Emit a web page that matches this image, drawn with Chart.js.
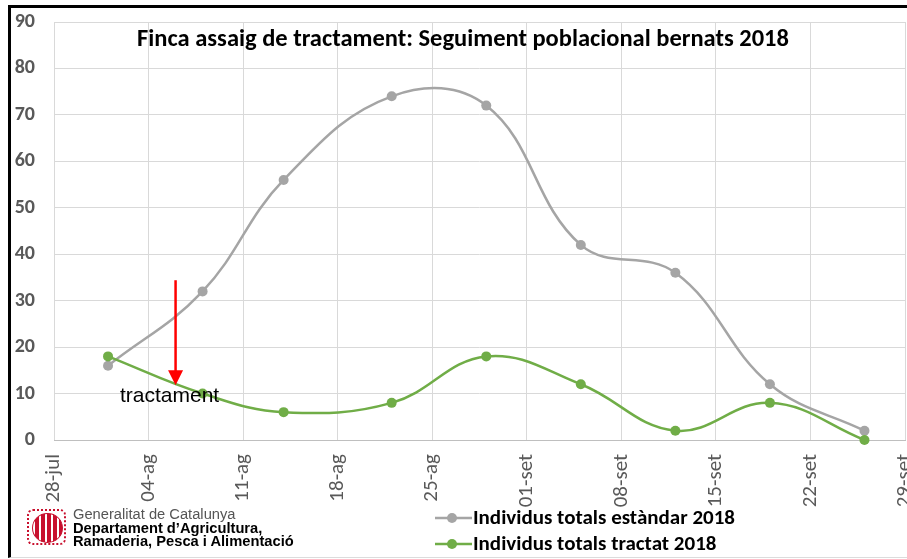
<!DOCTYPE html>
<html>
<head>
<meta charset="utf-8">
<script src="https://cdn.jsdelivr.net/npm/chart.js@4.4.1/dist/chart.umd.min.js"></script>
<style>
  html, body { margin: 0; padding: 0; background: #ffffff; }
  #wrap { position: relative; width: 907px; height: 559px; overflow: hidden; background: #fff; }
  #frame { position: absolute; left: 8px; top: 5px; right: -4px; bottom: 1px;
           border-left: 3px solid #000; border-top: 3px solid #000; border-bottom: 1px solid #dcdcdc; }
  #c { position: absolute; left: 0; top: 0; }
  #logo { position: absolute; left: 27px; top: 509px; width: 320px; height: 40px; }
  #emblem { position: absolute; left: 0; top: 0; width: 39px; height: 36px;
            border: 2px dotted #c8102e; border-radius: 6px; box-sizing: border-box; }
  #emblem .oval { position: absolute; left: 3px; top: 2px; width: 29px; height: 28px; border-radius: 50%;
            border: 1px solid #c8102e;
            background: repeating-linear-gradient(90deg, #ffffff 0px, #ffffff 2.5px, #c8102e 2.5px, #c8102e 6px); }
  #logotext { position: absolute; left: 46px; top: -1px; font-family: "Liberation Sans", Arial, sans-serif;
              font-size: 14.7px; line-height: 13.5px; color: #000; white-space: nowrap; }
  #logotext .l1 { color: #555; font-weight: normal; }
  #logotext .b { font-weight: bold; }
</style>
</head>
<body>
<div id="wrap">
  <div id="frame"></div>
  <canvas id="c" width="910" height="559"></canvas>
  <div id="logo">
    <div id="emblem"><div class="oval"></div></div>
    <div id="logotext">
      <div class="l1">Generalitat de Catalunya</div>
      <div class="b">Departament d’Agricultura,</div>
      <div class="b">Ramaderia, Pesca i Alimentació</div>
    </div>
  </div>
</div>
<script>
// ---------------- data ----------------
const chartTitle = 'Finca assaig de tractament: Seguiment poblacional bernats 2018';
const axisStart = '2018-07-28';
const tickLabels = ['28-jul', '04-ag', '11-ag', '18-ag', '25-ag', '01-set', '08-set', '15-set', '22-set', '29-set'];
const sampleDates = ['2018-08-01', '2018-08-08', '2018-08-14', '2018-08-22', '2018-08-29', '2018-09-05', '2018-09-12', '2018-09-19', '2018-09-26'];
const seriesNames = ['Individus totals estàndar 2018', 'Individus totals tractat 2018'];
const estandar = [16, 32, 56, 74, 72, 42, 36, 12, 2];
const tractat = [18, 10, 6, 8, 18, 12, 2, 8, 0];
const treatmentDate = '2018-08-06';
const treatmentLabel = 'tractament';
const arrowFrom = 34.4;
const arrowTo = 11.8;
const yMin = 0, yMax = 90, yStep = 10;

// ---------------- helpers ----------------
const DAY = 86400000;
function dayOffset(iso) { return Math.round((Date.parse(iso + 'T00:00:00Z') - Date.parse(axisStart + 'T00:00:00Z')) / DAY); }
const xs = sampleDates.map(dayOffset);
const toPts = (vals) => vals.map((v, i) => ({ x: xs[i], y: v }));

const GRAY = '#A5A5A5';
const GREEN = '#70AD47';
const FONT = 'Carlito, Calibri, Lato, sans-serif';

const overlay = {
  id: 'overlay',
  afterDatasetsDraw(chart) {
    const { ctx, scales: { x, y } } = chart;
    ctx.save();
    // annotation arrow
    const ax = x.getPixelForValue(dayOffset(treatmentDate));
    const y0 = y.getPixelForValue(arrowFrom);
    const y1 = y.getPixelForValue(arrowTo);
    ctx.strokeStyle = '#FF0000';
    ctx.fillStyle = '#FF0000';
    ctx.lineWidth = 2.5;
    ctx.beginPath();
    ctx.moveTo(ax, y0);
    ctx.lineTo(ax, y1 - 12);
    ctx.stroke();
    ctx.beginPath();
    ctx.moveTo(ax - 7.5, y1 - 15);
    ctx.lineTo(ax + 7.5, y1 - 15);
    ctx.lineTo(ax, y1);
    ctx.closePath();
    ctx.fill();
    // annotation label
    ctx.fillStyle = '#000';
    ctx.font = '21px "Liberation Sans", Arial, sans-serif';
    ctx.textAlign = 'center';
    ctx.textBaseline = 'alphabetic';
    ctx.fillText(treatmentLabel, ax - 6, y1 + 17);
    ctx.restore();
  },
  afterDraw(chart) {
    const { ctx } = chart;
    ctx.save();
    // title
    ctx.fillStyle = '#000';
    ctx.font = 'bold 24.5px ' + FONT;
    ctx.textAlign = 'center';
    ctx.textBaseline = 'alphabetic';
    ctx.fillText(chartTitle, 463, 46);
    // legend
    const rows = [518, 544];
    chart.data.datasets.forEach((ds, i) => {
      const cy = rows[i];
      ctx.strokeStyle = ds.borderColor;
      ctx.lineWidth = 2.5;
      ctx.beginPath();
      ctx.moveTo(435, cy);
      ctx.lineTo(472, cy);
      ctx.stroke();
      ctx.fillStyle = ds.borderColor;
      ctx.beginPath();
      ctx.arc(452, cy, 5, 0, Math.PI * 2);
      ctx.fill();
      ctx.fillStyle = '#000';
      ctx.font = 'bold 21px ' + FONT;
      ctx.textAlign = 'left';
      ctx.textBaseline = 'middle';
      ctx.fillText(ds.label, 473, cy + 1);
    });
    ctx.restore();
  }
};

new Chart(document.getElementById('c'), {
  type: 'line',
  data: {
    datasets: [
      { label: seriesNames[0], data: toPts(estandar), borderColor: GRAY, backgroundColor: GRAY,
        borderWidth: 2.5, pointRadius: 5, pointBorderWidth: 0, pointBackgroundColor: GRAY,
        tension: 0.4, clip: false, order: 1 },
      { label: seriesNames[1], data: toPts(tractat), borderColor: GREEN, backgroundColor: GREEN,
        borderWidth: 2.5, pointRadius: 5, pointBorderWidth: 0, pointBackgroundColor: GREEN,
        tension: 0.4, clip: false, order: 0 }
    ]
  },
  options: {
    responsive: false,
    animation: false,
    devicePixelRatio: 1,
    layout: { padding: { top: 22, left: 0, right: 1, bottom: 0 } },
    plugins: { legend: { display: false }, tooltip: { enabled: false }, title: { display: false } },
    scales: {
      x: {
        type: 'linear',
        min: 0,
        max: (tickLabels.length - 1) * 7,
        ticks: {
          stepSize: 7,
          autoSkip: false,
          minRotation: 90,
          maxRotation: 90,
          padding: 14,
          color: '#595959',
          font: { family: FONT, size: 21 },
          callback: (v) => tickLabels[Math.round(v / 7)]
        },
        grid: { color: '#D9D9D9', lineWidth: 1, drawTicks: false },
        border: { color: '#BFBFBF', width: 1 },
        afterFit(s) { s.height = 119; s.paddingLeft = 0; s.paddingRight = 0; }
      },
      y: {
        min: yMin,
        max: yMax,
        ticks: {
          stepSize: yStep,
          padding: 19,
          color: '#595959',
          font: { family: FONT, size: 20, weight: 'bold' }
        },
        grid: { color: '#D9D9D9', lineWidth: 1, drawTicks: false },
        border: { display: false },
        afterFit(s) { s.width = 54; s.paddingTop = 0; s.paddingBottom = 0; }
      }
    }
  },
  plugins: [overlay]
});
</script>
</body>
</html>
